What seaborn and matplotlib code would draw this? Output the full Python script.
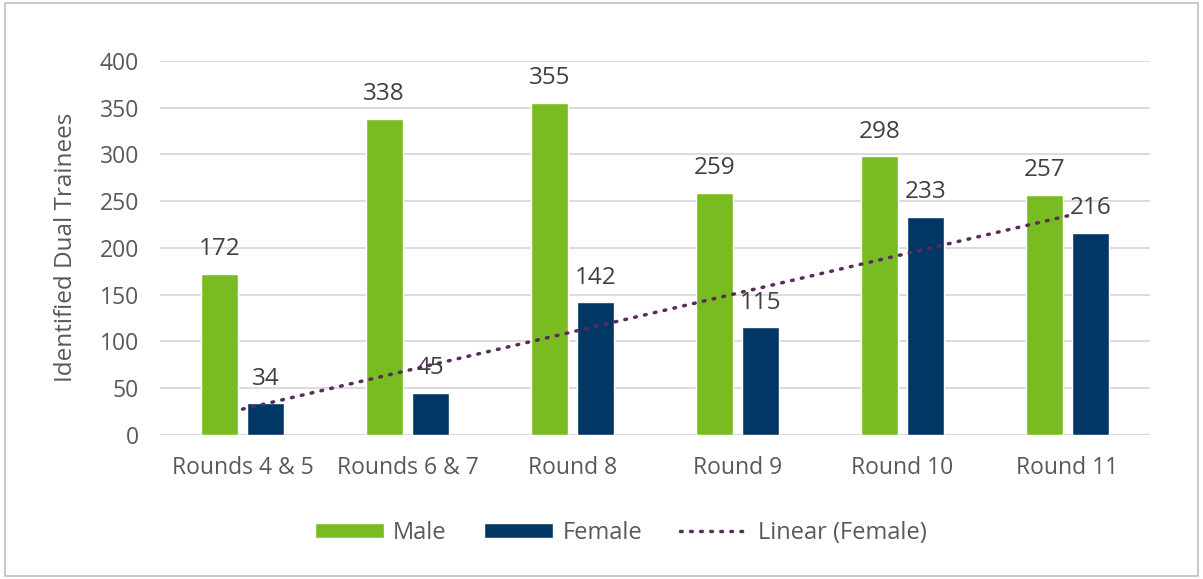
import pandas as pd
import numpy as np
import seaborn as sns
import matplotlib.pyplot as plt
from matplotlib.lines import Line2D
from matplotlib.patches import Patch

# data
rounds = ['Rounds 4 & 5', 'Rounds 6 & 7', 'Round 8', 'Round 9', 'Round 10', 'Round 11']
male = [172, 338, 355, 259, 298, 257]
female = [34, 45, 142, 115, 233, 216]

green = '#78BC21'
navy = '#003764'
purple = '#5C2A5E'
grey = '#595959'

df = pd.DataFrame({
    'Round': rounds * 2,
    'Count': male + female,
    'Sex': ['Male'] * len(rounds) + ['Female'] * len(rounds),
})

sns.set_style('white')
plt.rcParams['font.family'] = ['Open Sans', 'DejaVu Sans']

fig = plt.figure(figsize=(12.03, 5.79), dpi=100)
ax = fig.add_axes([0.133, 0.249, 0.823, 0.646])

sns.barplot(data=df, x='Round', y='Count', hue='Sex', order=rounds,
            palette={'Male': green, 'Female': navy}, width=0.564, gap=0.205,
            saturation=1, legend=False, ax=ax, zorder=3)

for cont in ax.containers:
    ax.bar_label(cont, padding=9, fontsize=17.5, color='#404040')

# linear trendline for female, fitted on x = 1..n
xs = np.arange(1, len(rounds) + 1)
slope, intercept = np.polyfit(xs, female, 1)
ax.plot(xs - 1, slope * xs + intercept, color=purple, lw=2.5,
        linestyle=(0, (0.5, 2.4)), dash_capstyle='round', zorder=4)

ax.set_ylim(0, 400)
ax.set_xlim(-0.5, len(rounds) - 0.5)
ax.set_yticks(range(0, 401, 50))
ax.yaxis.grid(True, color='#D9D9D9', lw=1.3, zorder=0)
ax.set_axisbelow(True)
for s in ax.spines.values():
    s.set_visible(False)
ax.axhline(0, color='#D9D9D9', lw=1.6, zorder=2)
ax.tick_params(axis='both', length=0, labelsize=16.5, labelcolor=grey)
ax.tick_params(axis='x', pad=15)
ax.tick_params(axis='y', pad=15)
ax.set_xlabel('')
ax.set_ylabel('Identified Dual Trainees', fontsize=17.5, color=grey, labelpad=16)

handles = [Patch(facecolor=green, label='Male'),
           Patch(facecolor=navy, label='Female'),
           Line2D([0], [0], color=purple, lw=2.5, linestyle=(0, (0.5, 2.4)),
                  dash_capstyle='round', label='Linear (Female)')]
fig.legend(handles=handles, loc='center', bbox_to_anchor=(0.516, 0.08), ncol=3,
           frameon=False, fontsize=17, labelcolor=grey, handlelength=2.9,
           handleheight=0.65, columnspacing=1.6, handletextpad=0.4)

# thin grey frame round the chart
fig.patches.append(plt.Rectangle((0.004, 0.006), 0.992, 0.988, transform=fig.transFigure,
                                 fill=False, edgecolor='#BFBFBF', lw=1.2))

fig.savefig('out.png', dpi=100)
